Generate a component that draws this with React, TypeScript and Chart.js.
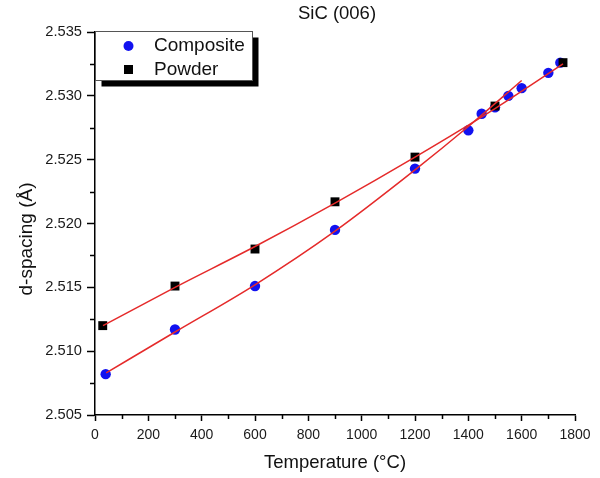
import React, { useEffect, useRef } from "react";
import { Chart, registerables } from "chart.js";

Chart.register(...registerables);

const chartTitle = "SiC (006)";
const xTitle = "Temperature (°C)";
const yTitle = "d-spacing (Å)";

const compositeLabel = "Composite";
const compositeT = [40, 300, 600, 900, 1200, 1400, 1450, 1500, 1550, 1600, 1700, 1745];
const compositeD = [2.5082, 2.5117, 2.5151, 2.5195, 2.5243, 2.5273, 2.5286, 2.5291, 2.53, 2.5306, 2.5318, 2.5326];

const powderLabel = "Powder";
const powderT = [29, 300, 600, 900, 1200, 1500, 1755];
const powderD = [2.512, 2.5151, 2.518, 2.5217, 2.5252, 2.5292, 2.5326];

const fitCompT = [42, 300, 600, 900, 1200, 1400, 1600];
const fitCompD = [2.5083, 2.5115, 2.5152, 2.5194, 2.5242, 2.5276, 2.5312];

const fitPowderT = [30, 300, 600, 900, 1200, 1500, 1755];
const fitPowderD = [2.512, 2.515, 2.5182, 2.5216, 2.5252, 2.529, 2.5325];

const xMin = 0, xMax = 1800, xStep = 200;
const yMin = 2.505, yMax = 2.535, yStep = 0.005;

const FONT = "'Liberation Sans', Arial, Helvetica, sans-serif";
const BLUE = "#1212f0";
const RED = "#e52a2a";

const toXY = (xs: number[], ys: number[]) => xs.map((x, i) => ({ x, y: ys[i] }));

const decorPlugin = {
  id: "decor",
  afterDraw(chart: any) {
    const ctx = chart.ctx as CanvasRenderingContext2D;
    const xs = chart.scales.x;
    const ys = chart.scales.y;
    const area = chart.chartArea;
    ctx.save();
    // minor ticks
    ctx.strokeStyle = "#000";
    ctx.lineWidth = 1.5;
    ctx.beginPath();
    for (let v = xMin + xStep / 2; v < xMax; v += xStep) {
      const px = Math.round(xs.getPixelForValue(v)) + 0.5;
      ctx.moveTo(px, area.bottom);
      ctx.lineTo(px, area.bottom + 4);
    }
    for (let k = 0; k < (yMax - yMin) / yStep - 0.5; k++) {
      const v = yMin + yStep * (k + 0.5);
      const py = Math.round(ys.getPixelForValue(v)) + 0.5;
      ctx.moveTo(area.left, py);
      ctx.lineTo(area.left - 5, py);
    }
    ctx.stroke();

    // titles
    ctx.fillStyle = "#111";
    ctx.textAlign = "center";
    ctx.textBaseline = "middle";
    ctx.font = `18.5px ${FONT}`;
    ctx.fillText(chartTitle, 337, 14);
    ctx.font = `18.5px ${FONT}`;
    ctx.fillText(xTitle, (area.left + area.right) / 2, 463);
    ctx.save();
    ctx.translate(27, 239);
    ctx.rotate(-Math.PI / 2);
    ctx.font = `19px ${FONT}`;
    ctx.fillText(yTitle, 0, 0);
    ctx.restore();

    // legend
    const lx = 95.5, ly = 31.5, lw = 157, lh = 49;
    ctx.fillStyle = "#000";
    ctx.fillRect(lx + 6, ly + 6, lw, lh);
    ctx.fillStyle = "#fff";
    ctx.fillRect(lx, ly, lw, lh);
    ctx.strokeStyle = "#555";
    ctx.lineWidth = 1;
    ctx.strokeRect(lx, ly, lw, lh);
    ctx.fillStyle = BLUE;
    ctx.beginPath();
    ctx.arc(128.5, 46, 5, 0, Math.PI * 2);
    ctx.fill();
    ctx.fillStyle = "#000";
    ctx.fillRect(124, 65, 9, 9);
    ctx.fillStyle = "#111";
    ctx.textAlign = "left";
    ctx.font = `19px ${FONT}`;
    ctx.fillText(compositeLabel, 154, 46);
    ctx.fillText(powderLabel, 154, 70);
    ctx.restore();
  },
};

export default function App() {
  const ref = useRef<HTMLCanvasElement>(null);
  useEffect(() => {
    if (!ref.current) return;
    const chart = new Chart(ref.current, {
      type: "scatter",
      data: {
        datasets: [
          {
            type: "line",
            label: "fit composite",
            data: toXY(fitCompT, fitCompD),
            borderColor: RED,
            borderWidth: 1.5,
            pointRadius: 0,
            fill: false,
            cubicInterpolationMode: "monotone",
            order: 0,
          },
          {
            type: "line",
            label: "fit powder",
            data: toXY(fitPowderT, fitPowderD),
            borderColor: RED,
            borderWidth: 1.5,
            pointRadius: 0,
            fill: false,
            cubicInterpolationMode: "monotone",
            order: 0,
          },
          {
            label: powderLabel,
            data: toXY(powderT, powderD),
            pointStyle: "rect",
            pointRadius: 6.3,
            backgroundColor: "#000",
            borderColor: "#000",
            borderWidth: 0,
            order: 1,
          },
          {
            label: compositeLabel,
            data: toXY(compositeT, compositeD),
            pointStyle: "circle",
            pointRadius: 5.2,
            backgroundColor: BLUE,
            borderColor: BLUE,
            borderWidth: 0,
            order: 2,
          },
        ],
      } as any,
      options: {
        animation: false,
        responsive: false,
        events: [],
        layout: { padding: { left: 0, top: 32, right: 25, bottom: 0 } },
        plugins: { legend: { display: false }, tooltip: { enabled: false }, title: { display: false } },
        scales: {
          x: {
            type: "linear",
            min: xMin,
            max: xMax,
            afterFit: (s: any) => { s.height = 63; },
            afterBuildTicks: (s: any) => {
              const t = [];
              for (let v = xMin; v <= xMax; v += xStep) t.push({ value: v });
              s.ticks = t;
            },
            ticks: {
              padding: 6,
              color: "#1a1a1a",
              font: { family: FONT, size: 14 },
              maxRotation: 0,
              callback: (v: any) => String(v),
            },
            grid: { drawOnChartArea: false, drawTicks: true, tickLength: 6, tickColor: "#000", tickWidth: 1.5 },
            border: { display: true, color: "#000", width: 1.5 },
          },
          y: {
            type: "linear",
            min: yMin,
            max: yMax,
            afterFit: (s: any) => { s.width = 95; },
            afterBuildTicks: (s: any) => {
              const t = [];
              const n = Math.round((yMax - yMin) / yStep);
              for (let k = 0; k <= n; k++) t.push({ value: yMin + k * yStep });
              s.ticks = t;
            },
            ticks: {
              padding: 5,
              color: "#1a1a1a",
              font: { family: FONT, size: 14.7 },
              callback: (v: any) => Number(v).toFixed(3),
            },
            grid: { drawOnChartArea: false, drawTicks: true, tickLength: 8, tickColor: "#000", tickWidth: 1.5 },
            border: { display: true, color: "#000", width: 1.5 },
          },
        },
      } as any,
      plugins: [decorPlugin],
    });
    return () => chart.destroy();
  }, []);
  return (
    <div style={{ position: "absolute", left: 0, top: 0, width: 600, height: 478, background: "#fff" }}>
      <canvas ref={ref} width={600} height={478} style={{ display: "block", width: 600, height: 478 }} />
    </div>
  );
}
